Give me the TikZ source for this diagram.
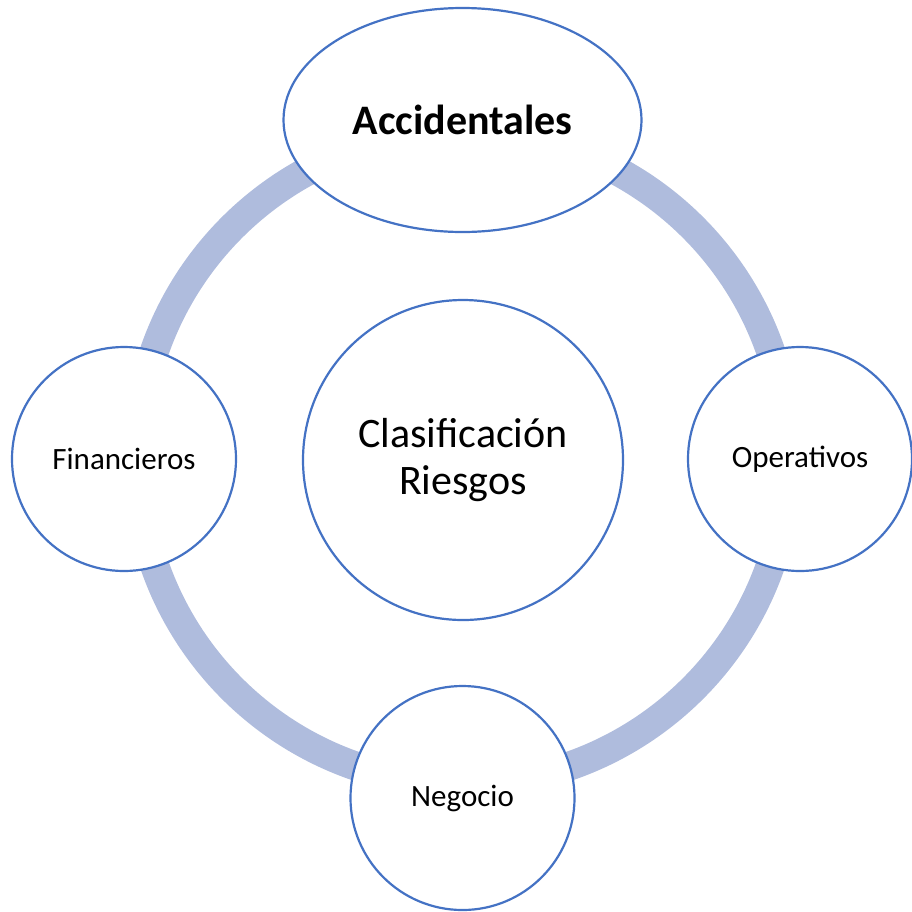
\documentclass[tikz,border=0pt]{standalone}
\usepackage{fontspec}
\setmainfont{Carlito}
\usetikzlibrary{shapes.geometric}
\definecolor{ringblue}{RGB}{175,188,221}
\definecolor{edgeblue}{RGB}{68,114,196}
\tikzset{
  x=1pt, y=1pt,
  ring/.style={draw=ringblue, line width=29pt},
  bubble/.style={circle, draw=edgeblue, fill=white, line width=2.2pt, inner sep=0pt, align=center, text=black},
  topbubble/.style={ellipse, draw=edgeblue, fill=white, line width=2.2pt, inner sep=0pt, minimum width=358pt, minimum height=224pt, text=black},
  smalltext/.style={font=\fontsize{31}{37}\selectfont},
  bigtext/.style={font=\fontsize{42}{47}\selectfont}
}
\begin{document}
\begin{tikzpicture}
\useasboundingbox (0,0) rectangle (912,-911);
\coordinate (ringc) at (462.5,-458);
\draw[ring] (ringc) circle[radius=326];
\node[topbubble, bigtext] (acc) at (462.5,-120) {\textbf{Accidentales}};
\node[bubble, bigtext, minimum size=320pt] (cls) at (463,-460) {Clasificación\\Riesgos};
\node[bubble, smalltext, minimum size=224pt] (fin) at (124,-459) {Financieros};
\node[bubble, smalltext, minimum size=224pt] (ope) at (800,-459) {Operativos};
\node[bubble, smalltext, minimum size=224pt] (neg) at (462.5,-798) {Negocio};
\end{tikzpicture}
\end{document}
